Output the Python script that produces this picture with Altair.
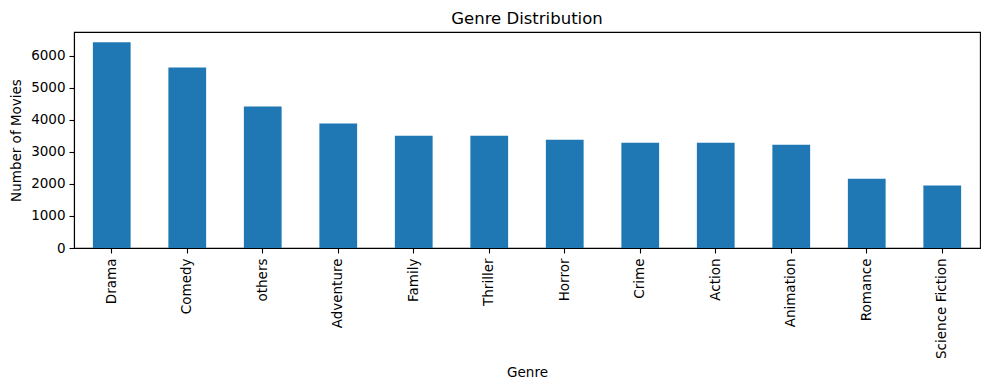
import altair as alt
import pandas as pd

genres = ["Drama", "Comedy", "others", "Adventure", "Family", "Thriller",
          "Horror", "Crime", "Action", "Animation", "Romance", "Science Fiction"]
counts = [6420, 5637, 4415, 3883, 3507, 3507, 3382, 3288, 3288, 3225, 2161, 1952]

df = pd.DataFrame({"Genre": genres, "Count": counts})

FONT = "DejaVu Sans"

chart = alt.Chart(df).mark_bar(color="#1f77b4").encode(
    x=alt.X("Genre:N", sort=genres,
            scale=alt.Scale(paddingInner=0.5, paddingOuter=0.25),
            axis=alt.Axis(title="Genre", labelAngle=270, labelAlign="right",
                          labelBaseline="middle", labelPadding=5, tickSize=5,
                          titleY=128, titleBaseline="alphabetic")),
    y=alt.Y("Count:Q", scale=alt.Scale(domain=[0, 6741], nice=False),
            axis=alt.Axis(title="Number of Movies", values=[0, 1000, 2000, 3000, 4000, 5000, 6000],
                          format="d", tickSize=5, labelPadding=4, titleX=-58,
                          titleBaseline="middle")),
).properties(
    width=906, height=216,
    title=alt.TitleParams("Genre Distribution", fontSize=16.5, font=FONT,
                          fontWeight="normal", color="black", anchor="middle", offset=5),
    autosize=alt.AutoSizeParams(type="none"),
    padding={"left": 66, "top": 24, "right": 1, "bottom": 136},
).configure_axis(
    labelFont=FONT, titleFont=FONT, labelFontSize=13.5, titleFontSize=13.5,
    labelColor="black", titleColor="black", titleFontWeight="normal",
    domainColor="black", tickColor="black", domainWidth=1.1, tickWidth=1.1,
    grid=False,
).configure_view(
    stroke="black", strokeWidth=1.1,
)

chart.save("out.html", embed_options={"renderer": "svg", "actions": False})
